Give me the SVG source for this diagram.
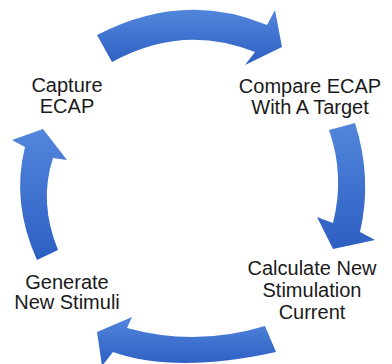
<svg xmlns="http://www.w3.org/2000/svg" width="392" height="364" viewBox="0 0 392 364">
<defs>
<linearGradient id="blue" x1="0" y1="0" x2="0" y2="1">
<stop offset="0" stop-color="#5286dc"/>
<stop offset="1" stop-color="#2d5fc2"/>
</linearGradient>
<linearGradient id="blueH" x1="0" y1="0" x2="1" y2="0">
<stop offset="0" stop-color="#4a7fd8"/>
<stop offset="1" stop-color="#2f61c3"/>
</linearGradient>
<style>
.lbl{font-family:"Liberation Sans",Arial,sans-serif;font-size:20px;fill:#1a1a1a;text-anchor:middle}
.arr{stroke:none}
</style>
</defs>
<rect width="392" height="364" fill="#ffffff"/>
<g id="connectors">
<path class="arr" fill="url(#blue)" d="M97,35 Q184,-10 267,25 L275,10 L282,47 L245,65 L255,52 Q182.5,23 112,62 Z"/>
<path class="arr" fill="url(#blue)" d="M355,123 Q372.5,178.5 360,232 L375,240 L333,249 L317,217 L333,223 Q345,175.5 329,130 Z"/>
<path class="arr" fill="url(#blue)" d="M276,352 Q175.5,374 113,352 L102,366 L97,332 L132,317 L127,328 Q196,347 265,326 Z"/>
<path class="arr" fill="url(#blue)" d="M37,260 Q11,202.5 25,147 L12,140 L43,129 L67,160 L53,158 Q38.5,202 58,250 Z"/>
</g>
<g id="capture">
<text class="lbl" x="67" y="92">Capture</text>
<text class="lbl" x="67" y="113">ECAP</text>
</g>
<g id="compare">
<text class="lbl" x="310" y="93">Compare ECAP</text>
<text class="lbl" x="310" y="114">With A Target</text>
</g>
<g id="calculate">
<text class="lbl" x="312" y="275">Calculate New</text>
<text class="lbl" x="312" y="297">Stimulation</text>
<text class="lbl" x="312" y="319">Current</text>
</g>
<g id="generate">
<text class="lbl" x="67" y="289">Generate</text>
<text class="lbl" x="67" y="309">New Stimuli</text>
</g>
</svg>
